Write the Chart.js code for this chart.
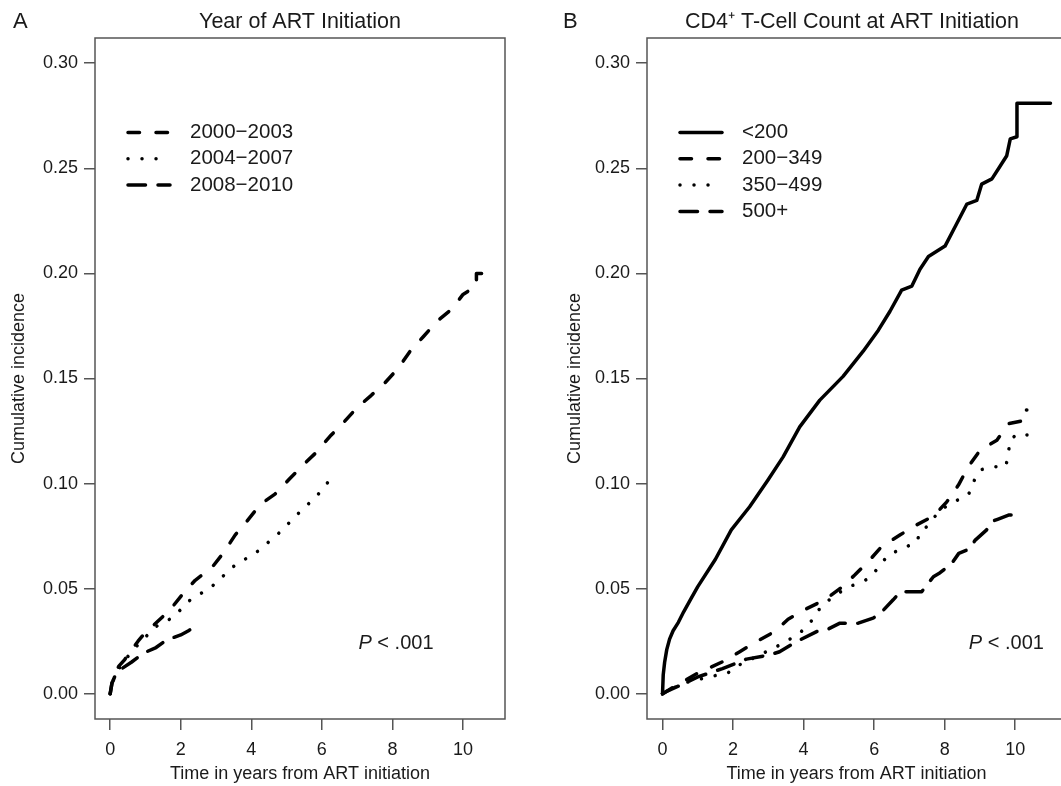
<!DOCTYPE html>
<html>
<head>
<meta charset="utf-8">
<script src="https://cdn.jsdelivr.net/npm/chart.js@4.4.1/dist/chart.umd.min.js"></script>
<style>
  html, body { margin: 0; padding: 0; background: #fff; overflow: hidden; }
  #wrapA { position: absolute; left: 0; top: 0; width: 530px; height: 786px; }
  #wrapB { position: absolute; left: 530px; top: 0; width: 560px; height: 786px; }
</style>
</head>
<body>
<div id="wrapA"><canvas id="panelA" width="530" height="786"></canvas></div>
<div id="wrapB"><canvas id="panelB" width="560" height="786"></canvas></div>
<script>
// ticks
const xTicks = [0, 2, 4, 6, 8, 10];
const yTicks = [0, 0.05, 0.10, 0.15, 0.20, 0.25, 0.30];

// Panel A - year of ART initiation
const yearLabels = ['2000−2003', '2004−2007', '2008−2010'];
const y0003Time = [0, 0.05, 0.15, 0.24, 0.4, 0.57, 0.79, 0.94, 1.32, 1.70, 2.08, 2.41, 2.88, 3.21, 3.54, 3.87, 4.25, 4.67, 5.10, 5.48, 5.85, 6.23, 6.61, 6.99, 7.40, 7.79, 8.17, 8.50, 8.88, 9.25, 9.68, 10.0, 10.38, 10.38, 10.85];
const y0003Cum  = [0, 0.005, 0.010, 0.013, 0.016, 0.020, 0.025, 0.028, 0.034, 0.040, 0.048, 0.054, 0.060, 0.067, 0.0755, 0.082, 0.090, 0.095, 0.1025, 0.109, 0.115, 0.1225, 0.129, 0.136, 0.142, 0.148, 0.155, 0.163, 0.170, 0.177, 0.183, 0.190, 0.194, 0.200, 0.200];
const y0407Time = [0, 0.1, 0.25, 0.6, 1.0, 1.3, 1.79, 2.22, 2.88, 3.49, 4.2, 4.82, 5.38, 5.85, 6.19];
const y0407Cum  = [0, 0.007, 0.012, 0.020, 0.027, 0.032, 0.0364, 0.044, 0.051, 0.0605, 0.068, 0.077, 0.0866, 0.094, 0.101];
const y0810Time = [0, 0.05, 0.15, 0.28, 0.6, 0.94, 1.3, 1.6, 2.0, 2.22, 2.4, 2.5];
const y0810Cum  = [0, 0.005, 0.009, 0.0114, 0.015, 0.0193, 0.022, 0.0256, 0.028, 0.030, 0.032, 0.034];

// Panel B - CD4+ count at ART initiation
const cd4Labels = ['<200', '200−349', '350−499', '500+'];
const cd4lt200Time = [0, 0.02, 0.06, 0.12, 0.2, 0.3, 0.45, 0.6, 0.8, 1.0, 1.5, 1.95, 2.47, 2.99, 3.42, 3.89, 4.46, 5.12, 5.69, 6.12, 6.45, 6.78, 7.07, 7.30, 7.54, 8.01, 8.34, 8.63, 8.91, 9.05, 9.34, 9.57, 9.76, 9.86, 10.05, 10.05, 11.0];
const cd4lt200Cum  = [0, 0.009, 0.015, 0.021, 0.026, 0.030, 0.034, 0.039, 0.045, 0.051, 0.064, 0.078, 0.089, 0.1017, 0.1127, 0.127, 0.1397, 0.151, 0.163, 0.173, 0.182, 0.192, 0.194, 0.202, 0.208, 0.213, 0.2236, 0.233, 0.2347, 0.2425, 0.245, 0.251, 0.256, 0.264, 0.265, 0.281, 0.281];
const cd4200Time = [0, 0.1, 0.29, 1.0, 1.71, 2.19, 2.66, 3.18, 3.56, 4.03, 4.6, 5.03, 5.45, 5.83, 6.21, 6.73, 7.16, 7.68, 8.06, 8.39, 8.67, 9.01, 9.48, 9.81, 10.25, 10.25, 10.33];
const cd4200Cum  = [0, 0.001, 0.003, 0.0098, 0.0153, 0.020, 0.0248, 0.0296, 0.0355, 0.040, 0.0447, 0.050, 0.0565, 0.0628, 0.070, 0.0755, 0.080, 0.0845, 0.0913, 0.0993, 0.108, 0.116, 0.1206, 0.1285, 0.130, 0.135, 0.135];
const cd4350Time = [0, 0.1, 0.58, 1.19, 1.86, 2.09, 2.7, 3.42, 3.9, 4.27, 4.51, 5.0, 5.31, 5.88, 6.02, 6.4, 6.92, 7.21, 7.3, 7.49, 7.87, 8.34, 8.63, 8.79, 8.86, 9.05, 9.34, 9.73, 9.81, 9.84, 10.03, 10.45];
const cd4350Cum  = [0, 0.001, 0.005, 0.0075, 0.010, 0.013, 0.018, 0.024, 0.029, 0.0355, 0.042, 0.048, 0.051, 0.055, 0.058, 0.066, 0.070, 0.072, 0.077, 0.0795, 0.0874, 0.092, 0.094, 0.0977, 0.103, 0.1067, 0.108, 0.108, 0.114, 0.120, 0.1235, 0.123];
const cd4500Time = [0, 0.1, 0.5, 1.0, 1.7, 2.38, 3.04, 3.32, 3.8, 4.37, 4.65, 5.03, 5.55, 5.97, 6.16, 6.54, 6.75, 7.35, 7.68, 7.87, 8.2, 8.4, 8.72, 8.86, 9.19, 9.34, 9.5, 9.81, 9.9];
const cd4500Cum  = [0, 0.001, 0.004, 0.008, 0.012, 0.0165, 0.0185, 0.020, 0.0248, 0.0296, 0.0304, 0.0336, 0.0336, 0.036, 0.038, 0.0447, 0.0486, 0.0486, 0.0557, 0.0576, 0.062, 0.0668, 0.069, 0.073, 0.078, 0.082, 0.083, 0.085, 0.085];

const FONT = "'Liberation Sans', Arial, sans-serif";
const INK = '#1a1a1a';
const SOLID = [];
const DASHED = [11.5, 16.5];
const DOTTED = [0.01, 14];
const LONGDASH = [17.5, 12.5];

Chart.defaults.font.family = FONT;
Chart.defaults.color = INK;

function series(label, times, values, dash) {
    return {
        label: label,
        data: times.map((t, i) => ({ x: t, y: values[i] })),
        showLine: true,
        borderColor: '#000',
        borderWidth: 3.5,
        borderDash: dash,
        borderCapStyle: 'round',
        borderJoinStyle: 'round',
        pointRadius: 0,
        tension: 0
    };
}

// frame, titles, legend and p-value text
const decorations = {
    id: 'decorations',
    afterDraw(chart, args, o) {
        const { ctx, chartArea: a, scales: { x, y } } = chart;
        ctx.save();
        ctx.strokeStyle = '#555';
        ctx.lineWidth = 1.5;
        ctx.strokeRect(a.left, a.top, a.right - a.left, a.bottom - a.top);

        ctx.fillStyle = INK;
        ctx.textBaseline = 'middle';
        ctx.textAlign = 'left';
        ctx.font = '22px ' + FONT;
        ctx.fillText(o.letter, o.letterX, 22);
        ctx.textAlign = 'center';
        ctx.font = '21.5px ' + FONT;
        ctx.fillText(o.title, o.titleX, 22);

        // legend
        ctx.textAlign = 'left';
        ctx.font = '20.5px ' + FONT;
        chart.data.datasets.forEach((ds, i) => {
            const ly = 132.5 + i * 26.3;
            ctx.save();
            ctx.strokeStyle = ds.borderColor;
            ctx.lineWidth = ds.borderWidth;
            ctx.lineCap = 'round';
            ctx.setLineDash(ds.borderDash);
            ctx.beginPath();
            ctx.moveTo(a.left + 33, ly);
            ctx.lineTo(a.left + 75, ly);
            ctx.stroke();
            ctx.restore();
            ctx.fillText(ds.label, a.left + 95, ly);
        });

        // P < .001
        ctx.font = 'italic 20px ' + FONT;
        const wP = ctx.measureText('P').width;
        ctx.font = '20px ' + FONT;
        const rest = ' < .001';
        const wR = ctx.measureText(rest).width;
        let px = x.getPixelForValue(o.pX) - (wP + wR) / 2;
        const py = y.getPixelForValue(o.pY);
        ctx.font = 'italic 20px ' + FONT;
        ctx.fillText('P', px, py);
        ctx.font = '20px ' + FONT;
        ctx.fillText(rest, px + wP, py);
        ctx.restore();
    }
};

function makePanel(id, datasets, o) {
    return new Chart(document.getElementById(id), {
        type: 'scatter',
        data: { datasets: datasets },
        options: {
            responsive: false,
            animation: false,
            events: [],
            layout: { padding: { left: 0, top: 38, right: o.padRight, bottom: 0 } },
            plugins: {
                legend: { display: false },
                tooltip: { enabled: false },
                decorations: o
            },
            scales: {
                x: {
                    type: 'linear',
                    min: o.xMin,
                    max: o.xMax,
                    afterBuildTicks: s => { s.ticks = xTicks.map(v => ({ value: v })); },
                    afterFit: s => { s.height = 67; },
                    grid: { drawOnChartArea: false, drawTicks: true, tickLength: 11, color: '#555', lineWidth: 1.5 },
                    border: { display: false },
                    ticks: { font: { size: 18 }, padding: 9, maxRotation: 0, autoSkip: false, color: INK,
                             callback: v => String(v) },
                    title: { display: true, text: 'Time in years from ART initiation', font: { size: 18 },
                             color: INK, padding: { top: 0, bottom: 1.5 } }
                },
                y: {
                    type: 'linear',
                    min: -0.012,
                    max: 0.312,
                    afterBuildTicks: s => { s.ticks = yTicks.map(v => ({ value: v })); },
                    afterFit: s => { s.width = o.yWidth; },
                    grid: { drawOnChartArea: false, drawTicks: true, tickLength: 11, color: '#555', lineWidth: 1.5 },
                    border: { display: false },
                    ticks: { font: { size: 18 }, padding: 6, autoSkip: false, color: INK,
                             callback: v => v.toFixed(2) },
                    title: { display: true, text: 'Cumulative incidence', font: { size: 18 },
                             color: INK, padding: { top: o.yTitlePad, bottom: 0 } }
                }
            }
        },
        plugins: [decorations]
    });
}

makePanel('panelA', [
    series(yearLabels[0], y0003Time, y0003Cum, DASHED),
    series(yearLabels[1], y0407Time, y0407Cum, DOTTED),
    series(yearLabels[2], y0810Time, y0810Cum, LONGDASH)
], { letter: 'A', letterX: 13, title: 'Year of ART Initiation', titleX: 300, xMin: -0.43, xMax: 11.19,
     yWidth: 95, yTitlePad: 8, padRight: 25, pX: 8.1, pY: 0.024 });

makePanel('panelB', [
    series(cd4Labels[0], cd4lt200Time, cd4lt200Cum, SOLID),
    series(cd4Labels[1], cd4200Time, cd4200Cum, DASHED),
    series(cd4Labels[2], cd4350Time, cd4350Cum, DOTTED),
    series(cd4Labels[3], cd4500Time, cd4500Cum, LONGDASH)
], { letter: 'B', letterX: 33, title: 'CD4⁺ T-Cell Count at ART Initiation', titleX: 322, xMin: -0.44, xMax: 11.44,
     yWidth: 117, yTitlePad: 34, padRight: 24, pX: 9.75, pY: 0.024 });
</script>
</body>
</html>
